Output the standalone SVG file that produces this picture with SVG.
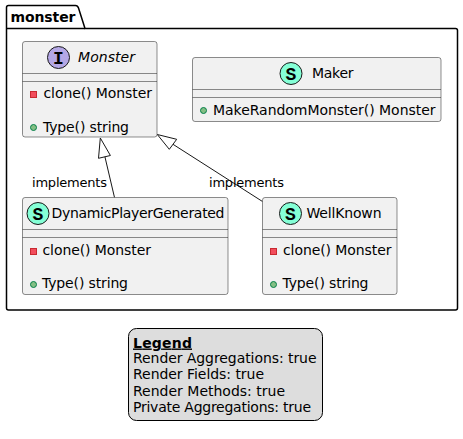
<svg xmlns="http://www.w3.org/2000/svg" width="463" height="439" viewBox="0 0 463 439">
<style>
text{font-family:"DejaVu Sans",sans-serif;font-size:14px;fill:#000}
.box{fill:#F1F1F1;stroke:#181818;stroke-opacity:.55;stroke-width:.9}
.sep{stroke:#181818;stroke-opacity:.55;stroke-width:.9;fill:none}
.circ{stroke:#181818;stroke-width:1}
.s{fill:#84FFD6}.i{fill:#B4A7E5}
.priv{fill:#F24D5C;stroke:#C82930;stroke-width:1}
.pub{fill:#84BE84;stroke:#038048;stroke-width:1}
.conn{stroke:#181818;stroke-width:1;fill:none}
.head{fill:#fff;stroke:#181818;stroke-width:1}
.lbl{font-size:13px}
.glyph{font-family:"Liberation Mono",monospace;font-weight:bold;font-size:18px;text-anchor:middle}
</style>
<g id="package-monster">
<path d="M8.5,5.5H75.5C77,5.5 78,6.5 78.5,8L85,28.5H455.5C456.8,28.5 457.5,29.2 457.5,30.5V308C457.5,309.3 456.8,310 455.5,310H8.5C7.2,310 6.5,309.3 6.5,308V7.5C6.5,6.2 7.2,5.5 8.5,5.5Z" fill="none" stroke="#000" stroke-width="1.5"/>
<path d="M6.5,28.5H85" fill="none" stroke="#000" stroke-width="1.5"/>
<text x="10.5" y="21.5" style="font-weight:bold" textLength="65">monster</text>
</g>
<g id="connectors">
<path class="conn" d="M114.5,197.5L104.5,155"/>
<polygon class="head" points="100.3,138 110.4,155.5 98.5,158.3"/>
<path class="conn" d="M262.5,201.5L173,144.3"/>
<polygon class="head" points="157.3,134.5 176.7,139.3 169.3,149.3"/>
<text class="lbl" x="32" y="187" textLength="75">implements</text>
<text class="lbl" x="209" y="187" textLength="75">implements</text>
</g>
<g id="node-Monster">
<rect class="box" x="22.5" y="41.5" width="134.5" height="95.5" rx="2.5"/>
<path class="sep" d="M22.5,73.5H157M22.5,81.5H157"/>
<circle class="circ i" cx="58.5" cy="57.5" r="11"/>
<text class="glyph" x="58.5" y="63.5">I</text>
<text x="78" y="62" font-style="italic" textLength="57">Monster</text>
<rect class="priv" x="30.5" y="91.5" width="6" height="6"/>
<text x="43.5" y="98" textLength="108.5">clone() Monster</text>
<circle class="pub" cx="33.5" cy="127.5" r="3"/>
<text x="43" y="131.5" textLength="86">Type() string</text>
</g>
<g id="node-Maker">
<rect class="box" x="192.5" y="57.5" width="248.5" height="64" rx="2.5"/>
<path class="sep" d="M192.5,89.5H441M192.5,97.5H441"/>
<circle class="circ s" cx="291" cy="73.5" r="11"/>
<text class="glyph" x="291" y="79.5">S</text>
<text x="312" y="78" textLength="41.5">Maker</text>
<circle class="pub" cx="203.5" cy="110.5" r="3"/>
<text x="213" y="114.5" textLength="222.5">MakeRandomMonster() Monster</text>
</g>
<g id="node-DynamicPlayerGenerated">
<rect class="box" x="22.5" y="197.5" width="205.5" height="97" rx="2.5"/>
<path class="sep" d="M22.5,229.5H228M22.5,237.5H228"/>
<circle class="circ s" cx="38" cy="213.5" r="11"/>
<text class="glyph" x="38" y="219.5">S</text>
<text x="51.5" y="218" textLength="173">DynamicPlayerGenerated</text>
<rect class="priv" x="30.5" y="248.5" width="6" height="6"/>
<text x="42.5" y="255" textLength="108.5">clone() Monster</text>
<circle class="pub" cx="33.5" cy="284.5" r="3"/>
<text x="42" y="288" textLength="86">Type() string</text>
</g>
<g id="node-WellKnown">
<rect class="box" x="262.5" y="197.5" width="134.5" height="97" rx="2.5"/>
<path class="sep" d="M262.5,229.5H397M262.5,237.5H397"/>
<circle class="circ s" cx="290.5" cy="213.5" r="11"/>
<text class="glyph" x="290.5" y="219.5">S</text>
<text x="306.5" y="218" textLength="75">WellKnown</text>
<rect class="priv" x="270.5" y="248.5" width="6" height="6"/>
<text x="283" y="255" textLength="108.5">clone() Monster</text>
<circle class="pub" cx="273.5" cy="284.5" r="3"/>
<text x="282.5" y="288" textLength="86">Type() string</text>
</g>
<g id="legend">
<rect x="128.5" y="328.5" width="194" height="92" rx="8" fill="#DDD" stroke="#000" stroke-width="1"/>
<text x="133" y="347.5" style="font-weight:bold" text-decoration="underline" textLength="59">Legend</text>
<text x="133" y="363" textLength="183.5">Render Aggregations: true</text>
<text x="133" y="379" textLength="131">Render Fields: true</text>
<text x="133" y="395.5" textLength="152">Render Methods: true</text>
<text x="133" y="411.5" textLength="178">Private Aggregations: true</text>
</g>
</svg>
